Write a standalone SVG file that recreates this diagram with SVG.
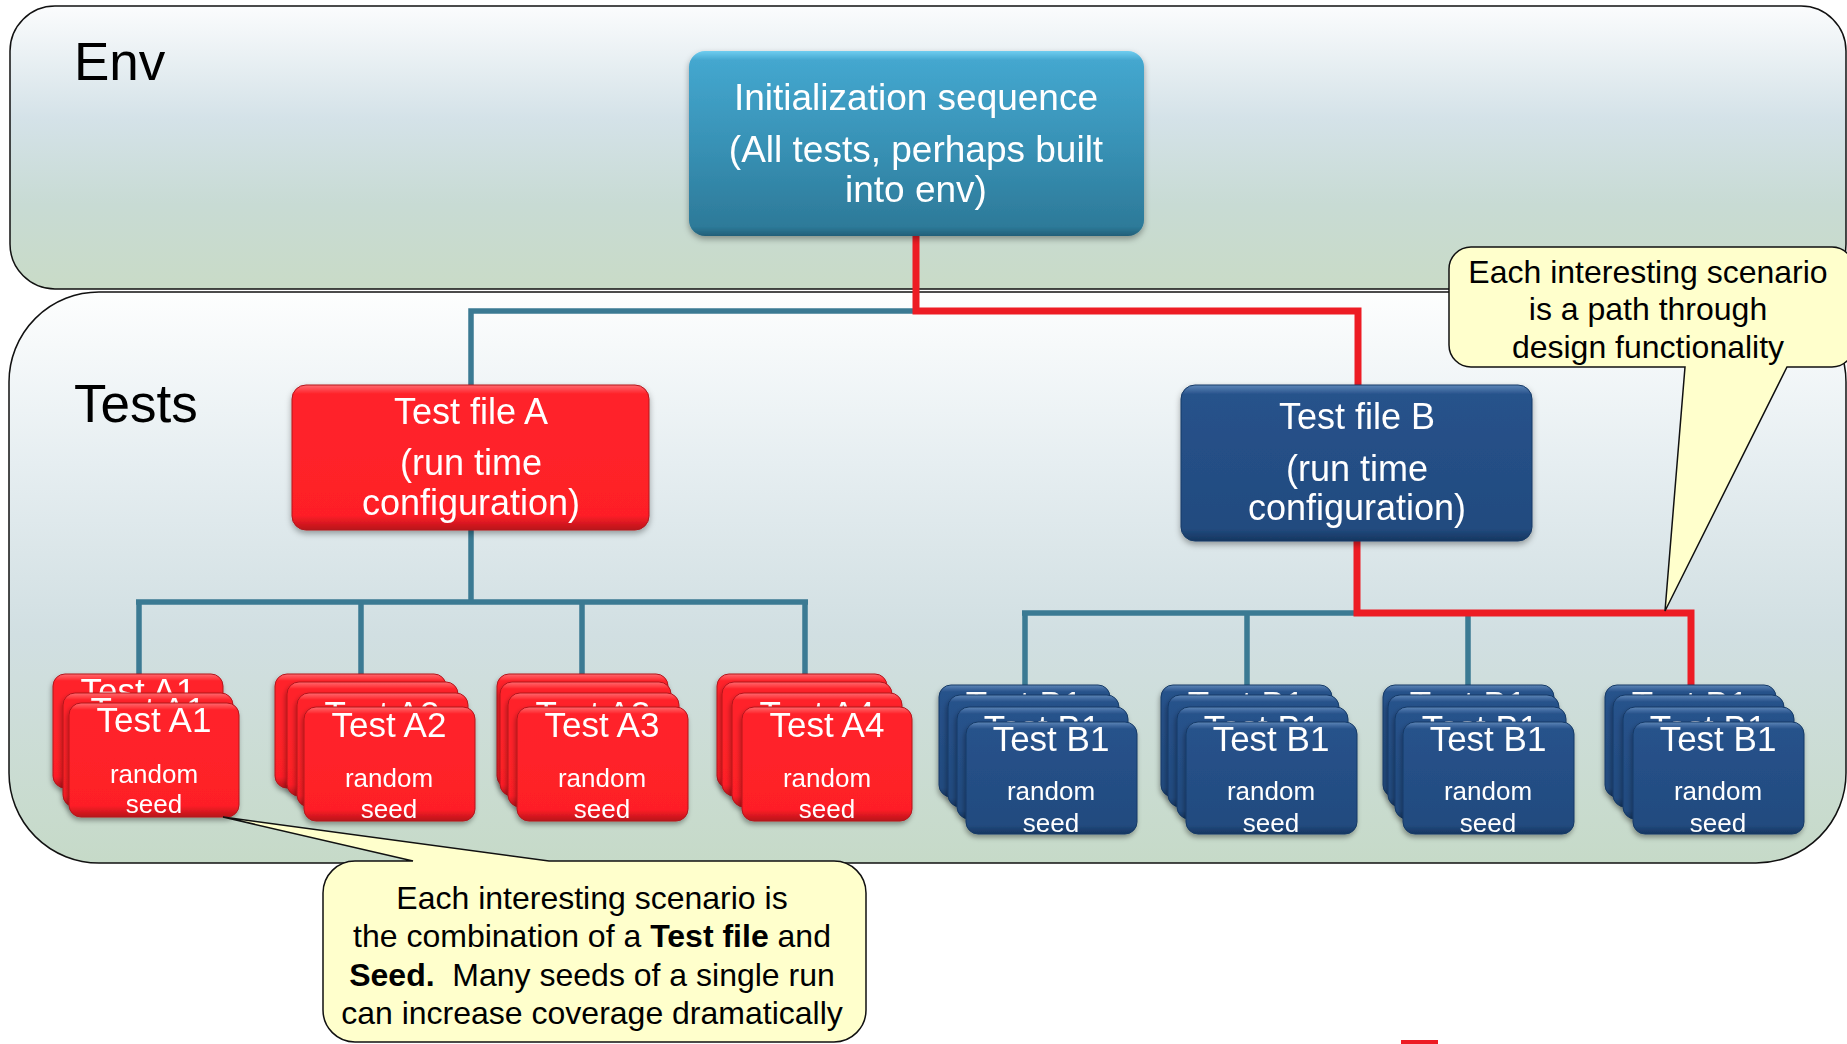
<svg xmlns="http://www.w3.org/2000/svg" width="1847" height="1044" viewBox="0 0 1847 1044">
  <defs>
    <linearGradient id="envFill" x1="0" y1="0" x2="0" y2="1">
      <stop offset="0" stop-color="#fbfcfd"/>
      <stop offset="0.4" stop-color="#d4e2e8"/>
      <stop offset="0.7" stop-color="#c8dbd4"/>
      <stop offset="1" stop-color="#c9dbc7"/>
    </linearGradient>
    <linearGradient id="testsFill" x1="0" y1="0" x2="0" y2="1">
      <stop offset="0" stop-color="#fdfefe"/>
      <stop offset="0.3" stop-color="#e6eef1"/>
      <stop offset="0.6" stop-color="#d1dfe2"/>
      <stop offset="1" stop-color="#c6dac8"/>
    </linearGradient>
    <linearGradient id="initFill" x1="0" y1="0" x2="0" y2="1">
      <stop offset="0" stop-color="#6fcdf0"/>
      <stop offset="0.05" stop-color="#44a7cf"/>
      <stop offset="0.5" stop-color="#3892b6"/>
      <stop offset="0.95" stop-color="#2d7a99"/>
      <stop offset="1" stop-color="#235f78"/>
    </linearGradient>
    <linearGradient id="redFill" x1="0" y1="0" x2="0" y2="1">
      <stop offset="0" stop-color="#ff6a6f"/>
      <stop offset="0.06" stop-color="#ff242b"/>
      <stop offset="0.9" stop-color="#fe1f27"/>
      <stop offset="1" stop-color="#b8121a"/>
    </linearGradient>
    <linearGradient id="blueFill" x1="0" y1="0" x2="0" y2="1">
      <stop offset="0" stop-color="#5e86b8"/>
      <stop offset="0.06" stop-color="#27528b"/>
      <stop offset="0.92" stop-color="#224b7f"/>
      <stop offset="1" stop-color="#163660"/>
    </linearGradient>
    <filter id="shadow" x="-10%" y="-10%" width="125%" height="130%">
      <feDropShadow dx="0" dy="3" stdDeviation="3" flood-color="#000" flood-opacity="0.35"/>
    </filter>
    <filter id="cardShadow" x="-10%" y="-10%" width="125%" height="130%">
      <feDropShadow dx="-1" dy="3" stdDeviation="2.5" flood-color="#000" flood-opacity="0.35"/>
    </filter>
  </defs>
  <style>
    text { font-family: "Liberation Sans", Arial, sans-serif; }
    .panel { stroke: #111; stroke-width: 1.5; }
    .panelLabel { font-size: 53px; fill: #000; }
    .w { fill: #fff; text-anchor: middle; }
    .big { font-size: 37px; }
    .mid { font-size: 36px; }
    .cardTitle { font-size: 35px; }
    .cardSub { font-size: 26px; }
    .red rect { fill: url(#redFill); stroke: #b3141c; stroke-width: 1; }
    .blue rect { fill: url(#blueFill); stroke: #163a66; stroke-width: 1; }
    .card { filter: url(#cardShadow); }
    .ln { fill: none; stroke-linejoin: miter; stroke-linecap: butt; }
    .lnBlue { stroke: #3b7a93; stroke-width: 5.5; }
    .lnRed { stroke: #ed1c24; stroke-width: 7; }
    .callout { fill: #ffffcc; stroke: #111; stroke-width: 1.5; }
    .ct { font-size: 32px; fill: #000; text-anchor: middle; }
  </style>

  <!-- background panels -->
  <g id="env">
    <rect class="panel" x="10" y="6" width="1836" height="283" rx="45" fill="url(#envFill)"/>
    <text class="panelLabel" x="74" y="80">Env</text>
  </g>
  <g id="tests">
    <rect class="panel" x="9" y="292" width="1837" height="571" rx="90" fill="url(#testsFill)"/>
    <text class="panelLabel" x="74" y="422">Tests</text>
  </g>

  <!-- tree connectors -->
  <g id="connectors" class="ln">
    <path class="lnBlue" d="M916,311 H471 V385"/>
    <path class="lnBlue" d="M471,530 V602"/>
    <path class="lnBlue" d="M136,602 H808 M139,602 V674 M361,602 V674 M582,602 V674 M805,602 V674"/>
    <path class="lnBlue" d="M1022,613 H1357 M1025,613 V685 M1247,613 V685 M1468,613 V685"/>
    <path class="lnRed" d="M916,236 V311 H1358 V385"/>
    <path class="lnRed" d="M1357,541 V613 H1691 V685"/>
  </g>

  <!-- initialization node -->
  <g id="init" filter="url(#shadow)">
    <rect x="689" y="51" width="455" height="185" rx="16" fill="url(#initFill)"/>
    <text class="w big" x="916" y="110">Initialization sequence</text>
    <text class="w big" x="916" y="162">(All tests, perhaps built</text>
    <text class="w big" x="916" y="202">into env)</text>
  </g>

  <!-- test files -->
  <g id="testFileA" class="red" filter="url(#shadow)">
    <rect x="292" y="385" width="357" height="145" rx="14"/>
    <text class="w mid" x="471" y="424">Test file A</text>
    <text class="w mid" x="471" y="475">(run time</text>
    <text class="w mid" x="471" y="515">configuration)</text>
  </g>
  <g id="testFileB" class="blue" filter="url(#shadow)">
    <rect x="1181" y="385" width="351" height="156" rx="14"/>
    <text class="w mid" x="1357" y="429">Test file B</text>
    <text class="w mid" x="1357" y="481">(run time</text>
    <text class="w mid" x="1357" y="520">configuration)</text>
  </g>

  <!-- seed stacks, file A -->
  <g id="testA1" class="red">
    <g class="card" transform="translate(53,674)"><rect width="170" height="114" rx="12"/><text class="w cardTitle" x="85" y="29">Test A1</text></g>
    <g class="card" transform="translate(63,693)"><rect width="170" height="114" rx="12"/><text class="w cardTitle" x="85" y="29">Test A1</text></g>
    <g class="card" transform="translate(69,703)"><rect width="170" height="114" rx="12"/><text class="w cardTitle" x="85" y="29">Test A1</text><text class="w cardSub" x="85" y="80">random</text><text class="w cardSub" x="85" y="110">seed</text></g>
  </g>
  <g id="testA2" class="red">
    <g class="card" transform="translate(275,674)"><rect width="171" height="114" rx="12"/></g>
    <g class="card" transform="translate(287,682)"><rect width="171" height="114" rx="12"/></g>
    <g class="card" transform="translate(297,693)"><rect width="171" height="114" rx="12"/><text class="w cardTitle" x="85" y="33">Test A2</text></g>
    <g class="card" transform="translate(304,707)"><rect width="171" height="114" rx="12"/><text class="w cardTitle" x="85" y="30">Test A2</text><text class="w cardSub" x="85" y="80">random</text><text class="w cardSub" x="85" y="111">seed</text></g>
  </g>
  <g id="testA3" class="red">
    <g class="card" transform="translate(497,674)"><rect width="171" height="114" rx="12"/></g>
    <g class="card" transform="translate(500,682)"><rect width="171" height="114" rx="12"/></g>
    <g class="card" transform="translate(508,693)"><rect width="171" height="114" rx="12"/><text class="w cardTitle" x="85" y="33">Test A3</text></g>
    <g class="card" transform="translate(517,707)"><rect width="171" height="114" rx="12"/><text class="w cardTitle" x="85" y="30">Test A3</text><text class="w cardSub" x="85" y="80">random</text><text class="w cardSub" x="85" y="111">seed</text></g>
  </g>
  <g id="testA4" class="red">
    <g class="card" transform="translate(717,674)"><rect width="170" height="114" rx="12"/></g>
    <g class="card" transform="translate(722,682)"><rect width="170" height="114" rx="12"/></g>
    <g class="card" transform="translate(732,693)"><rect width="170" height="114" rx="12"/><text class="w cardTitle" x="85" y="33">Test A4</text></g>
    <g class="card" transform="translate(742,707)"><rect width="170" height="114" rx="12"/><text class="w cardTitle" x="85" y="30">Test A4</text><text class="w cardSub" x="85" y="80">random</text><text class="w cardSub" x="85" y="111">seed</text></g>
  </g>

  <!-- seed stacks, file B -->
  <g id="testB1a" class="blue">
    <g class="card" transform="translate(939,685)"><rect width="171" height="112" rx="12"/><text class="w cardTitle" x="85" y="31">Test B1</text></g>
    <g class="card" transform="translate(948,695)"><rect width="171" height="112" rx="12"/></g>
    <g class="card" transform="translate(957,707)"><rect width="171" height="112" rx="12"/><text class="w cardTitle" x="85" y="33">Test B1</text></g>
    <g class="card" transform="translate(966,722)"><rect width="171" height="112" rx="12"/><text class="w cardTitle" x="85" y="29">Test B1</text><text class="w cardSub" x="85" y="78">random</text><text class="w cardSub" x="85" y="110">seed</text></g>
  </g>
  <g id="testB1b" class="blue">
    <g class="card" transform="translate(1161,685)"><rect width="171" height="112" rx="12"/><text class="w cardTitle" x="85" y="31">Test B1</text></g>
    <g class="card" transform="translate(1168,695)"><rect width="171" height="112" rx="12"/></g>
    <g class="card" transform="translate(1177,707)"><rect width="171" height="112" rx="12"/><text class="w cardTitle" x="85" y="33">Test B1</text></g>
    <g class="card" transform="translate(1186,722)"><rect width="171" height="112" rx="12"/><text class="w cardTitle" x="85" y="29">Test B1</text><text class="w cardSub" x="85" y="78">random</text><text class="w cardSub" x="85" y="110">seed</text></g>
  </g>
  <g id="testB1c" class="blue">
    <g class="card" transform="translate(1383,685)"><rect width="171" height="112" rx="12"/><text class="w cardTitle" x="85" y="31">Test B1</text></g>
    <g class="card" transform="translate(1388,695)"><rect width="171" height="112" rx="12"/></g>
    <g class="card" transform="translate(1395,707)"><rect width="171" height="112" rx="12"/><text class="w cardTitle" x="85" y="33">Test B1</text></g>
    <g class="card" transform="translate(1403,722)"><rect width="171" height="112" rx="12"/><text class="w cardTitle" x="85" y="29">Test B1</text><text class="w cardSub" x="85" y="78">random</text><text class="w cardSub" x="85" y="110">seed</text></g>
  </g>
  <g id="testB1d" class="blue">
    <g class="card" transform="translate(1605,685)"><rect width="171" height="112" rx="12"/><text class="w cardTitle" x="85" y="31">Test B1</text></g>
    <g class="card" transform="translate(1613,695)"><rect width="171" height="112" rx="12"/></g>
    <g class="card" transform="translate(1623,707)"><rect width="171" height="112" rx="12"/><text class="w cardTitle" x="85" y="33">Test B1</text></g>
    <g class="card" transform="translate(1633,722)"><rect width="171" height="112" rx="12"/><text class="w cardTitle" x="85" y="29">Test B1</text><text class="w cardSub" x="85" y="78">random</text><text class="w cardSub" x="85" y="110">seed</text></g>
  </g>

  <!-- speech-bubble notes -->
  <g id="notePath">
    <path class="callout" d="M1471,247 H1832 A22,22 0 0 1 1854,269 V345 A22,22 0 0 1 1832,367 H1787 L1665,611 L1685,367 H1471 A22,22 0 0 1 1449,345 V269 A22,22 0 0 1 1471,247 Z"/>
    <text class="ct" x="1648" y="283">Each interesting scenario</text>
    <text class="ct" x="1648" y="320">is a path through</text>
    <text class="ct" x="1648" y="358">design functionality</text>
  </g>
  <g id="noteSeed">
    <path class="callout" d="M355,861 H413 L223,817 L549,861 H834 A32,32 0 0 1 866,893 V1010 A32,32 0 0 1 834,1042 H355 A32,32 0 0 1 323,1010 V893 A32,32 0 0 1 355,861 Z"/>
    <text class="ct" x="592" y="909">Each interesting scenario is</text>
    <text class="ct" x="592" y="947">the combination of a <tspan font-weight="bold">Test file</tspan> and</text>
    <text class="ct" x="592" y="986"><tspan font-weight="bold">Seed.</tspan>&#160; Many seeds of a single run</text>
    <text class="ct" x="592" y="1024">can increase coverage dramatically</text>
  </g>

  <!-- small red mark at the lower edge -->
  <rect x="1401" y="1040" width="37" height="4" fill="#ed1c24"/>
</svg>
